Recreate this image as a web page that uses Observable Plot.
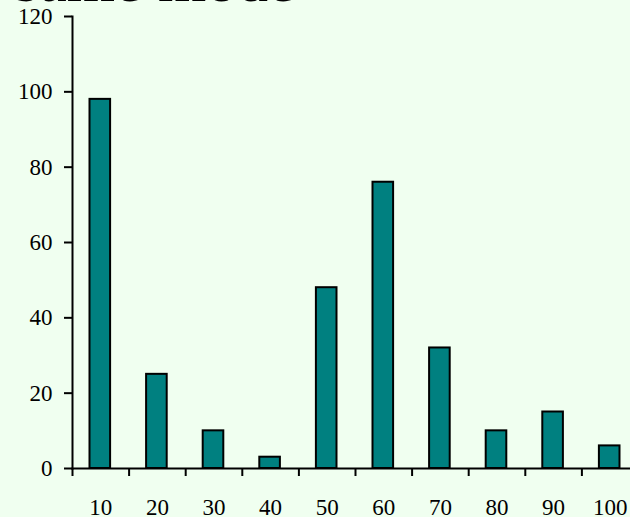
<!DOCTYPE html>
<html>
<head>
<meta charset="utf-8">
<script src="https://cdn.jsdelivr.net/npm/d3@7"></script>
<script src="https://cdn.jsdelivr.net/npm/@observablehq/plot@0.6"></script>
<style>
  html, body { margin: 0; padding: 0; background: #F0FFF0; overflow: hidden; width: 630px; height: 517px; }
  #title { font-family: "Liberation Serif", "Times New Roman", serif; font-size: 62px; line-height: 62px; margin: -51px 0 0 15px; color: #000; white-space: nowrap; }
  #chart svg { display: block; overflow: visible; max-width: none; }
  #chart svg text { font-family: "Liberation Serif", "Times New Roman", serif; }
</style>
</head>
<body>
<div id="title">same mode</div>
<div id="chart"></div>
<script>
// Bin labels and counts
const categories = [10, 20, 30, 40, 50, 60, 70, 80, 90, 100];
const counts = [98, 25, 10, 3, 48, 76, 32, 10, 15, 6];
const yTicks = [0, 20, 40, 60, 80, 100, 120];

const binWidth = 10;
const data = categories.map((c, i) => ({cat: c, value: counts[i]}));
// bin edges sit halfway between neighbouring categories
const edges = [categories[0] - binWidth / 2, ...categories.map(c => c + binWidth / 2)];

const font = "'Liberation Serif', 'Times New Roman', serif";

const chart = Plot.plot({
  width: 640,
  height: 506,
  marginLeft: 72,
  marginRight: 2,
  marginTop: 5,
  marginBottom: 49,
  style: {background: "transparent", fontFamily: font, fontSize: "23px", color: "#000", overflow: "visible"},
  x: {type: "linear", domain: [edges[0], edges[edges.length - 1]]},
  y: {domain: [0, 120]},
  marks: [
    Plot.rectY(data, {
      x1: d => d.cat - binWidth / 2,
      x2: d => d.cat + binWidth / 2,
      y: "value",
      insetLeft: 17.5,
      insetRight: 18.5,
      fill: "#008080",
      stroke: "#000",
      strokeWidth: 2
    }),
    Plot.axisY({ticks: yTicks, tickSize: 8, tickPadding: 12, strokeWidth: 2, label: null, fontSize: 23}),
    Plot.axisX({ticks: edges.slice(0, -1), tickSize: 8, tickFormat: () => "", strokeWidth: 2, label: null}),
    Plot.axisX({ticks: categories, tickSize: 0, tickPadding: 30, label: null, fontSize: 23}),
    Plot.frame({anchor: "left", strokeWidth: 2}),
    Plot.frame({anchor: "bottom", strokeWidth: 2})
  ]
});
document.getElementById("chart").append(chart);
</script>
</body>
</html>
